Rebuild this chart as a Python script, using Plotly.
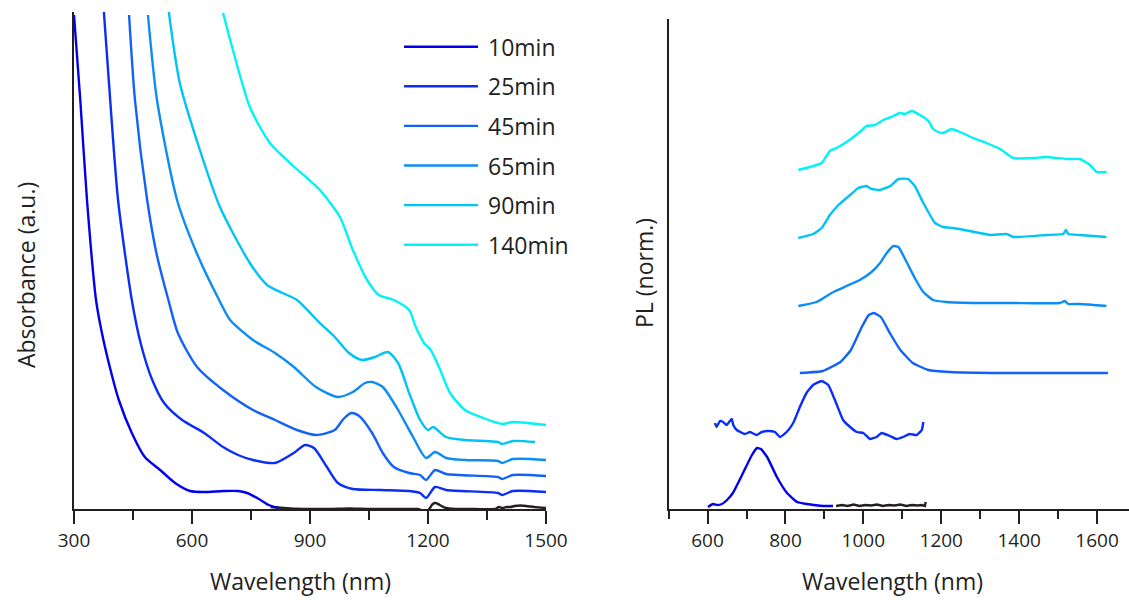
import plotly.graph_objects as go

W, H = 1129, 600

# ---- series ----
series = ["10min", "25min", "45min", "65min", "90min", "140min"]
colors = ["#0000ee", "#0a2ef5", "#1262f7", "#0b8df5", "#00c3f7", "#00f3f5"]

# ---- absorbance spectra (wavelength nm, absorbance a.u., offset) ----
abs_wl_10 = [300, 316, 333, 356, 371, 391, 414, 447, 480, 519, 557, 595, 630, 680, 717, 740, 770, 795, 820]
abs_10 = [4.94, 4.09, 3.09, 2.09, 1.76, 1.42, 1.09, 0.76, 0.52, 0.39, 0.26, 0.18, 0.17, 0.18, 0.18, 0.16, 0.10, 0.04, 0.01]

abs_wl_25 = [376, 392, 412, 447, 470, 498, 529, 575, 631, 679, 717, 755, 811, 859, 887, 910, 943, 971, 1009,
             1080, 1152, 1180, 1195, 1218, 1246, 1378, 1388, 1416, 1500]
abs_25 = [4.97, 4.09, 3.09, 2.09, 1.65, 1.30, 1.06, 0.89, 0.76, 0.62, 0.54, 0.49, 0.46, 0.56, 0.64, 0.61, 0.42, 0.26, 0.20,
          0.19, 0.18, 0.16, 0.11, 0.22, 0.19, 0.16, 0.14, 0.18, 0.17]

abs_wl_45 = [440, 455, 486, 510, 540, 564, 613, 679, 755, 811, 867, 915, 963, 985, 1005, 1025, 1058, 1085, 1113,
             1152, 1180, 1195, 1218, 1246, 1378, 1388, 1416, 1500]
abs_45 = [4.94, 4.09, 3.09, 2.55, 2.09, 1.76, 1.42, 1.19, 0.99, 0.89, 0.79, 0.74, 0.79, 0.90, 0.96, 0.93, 0.76, 0.56, 0.42,
          0.36, 0.34, 0.29, 0.39, 0.35, 0.32, 0.30, 0.34, 0.33]

abs_wl_65 = [488, 511, 562, 613, 669, 697, 755, 811, 859, 915, 971, 1009, 1040, 1058, 1085, 1124, 1162, 1195, 1218,
             1246, 1294, 1378, 1388, 1416, 1500]
abs_65 = [4.94, 4.09, 3.09, 2.55, 2.09, 1.89, 1.69, 1.56, 1.42, 1.22, 1.12, 1.17, 1.26, 1.27, 1.22, 0.99, 0.72, 0.51, 0.57,
          0.51, 0.49, 0.48, 0.46, 0.50, 0.49]

abs_wl_90 = [541, 569, 620, 671, 747, 791, 830, 867, 925, 963, 999, 1032, 1065, 1098, 1124, 1152, 1180, 1200, 1213,
             1246, 1294, 1378, 1388, 1416, 1472]
abs_90 = [4.97, 4.26, 3.59, 3.02, 2.46, 2.24, 2.16, 2.09, 1.86, 1.72, 1.56, 1.49, 1.52, 1.57, 1.46, 1.16, 0.89, 0.79, 0.82,
          0.72, 0.69, 0.67, 0.65, 0.68, 0.67]

abs_wl_140 = [679, 704, 747, 798, 849, 925, 976, 1009, 1045, 1075, 1113, 1152, 1169, 1190, 1207, 1228, 1256, 1294,
              1340, 1378, 1391, 1416, 1500]
abs_140 = [4.96, 4.59, 4.02, 3.66, 3.46, 3.19, 2.92, 2.59, 2.29, 2.14, 2.09, 1.99, 1.82, 1.66, 1.59, 1.42, 1.16, 0.99,
           0.91, 0.86, 0.85, 0.87, 0.84]

# solvent baseline
abs_wl_base = [800, 850, 900, 950, 1000, 1050, 1100, 1150, 1175, 1188, 1195, 1203, 1212, 1220, 1230, 1245, 1270,
               1320, 1370, 1380, 1390, 1400, 1410, 1420, 1435, 1450, 1470, 1500]
abs_base = [0.02, 0.005, 0.0, 0.0, 0.005, 0.0, 0.0, 0.0, 0.0, -0.02, -0.03, 0.0, 0.05, 0.06, 0.04, 0.01, 0.0,
            0.0, 0.0, 0.02, 0.01, 0.02, 0.02, 0.03, 0.035, 0.03, 0.02, 0.01]

# ---- photoluminescence spectra (wavelength nm, normalised PL, offset) ----
pl_wl_10 = [601, 614, 625, 637, 650, 665, 691, 714, 727, 737, 753, 778, 804, 830, 855, 896, 922]
pl_10 = [0.02, 0.05, 0.04, 0.05, 0.09, 0.16, 0.36, 0.54, 0.61, 0.60, 0.52, 0.32, 0.16, 0.07, 0.05, 0.03, 0.03]

pl_wl_25 = [619, 623, 632, 640, 649, 662, 666, 675, 696, 709, 726, 739, 756, 773, 786, 803, 820, 837, 854, 871,
            893, 910, 927, 948, 966, 983, 1000, 1017, 1034, 1047, 1068, 1085, 1102, 1119, 1137, 1150, 1154]
pl_25 = [0.86, 0.82, 0.88, 0.87, 0.84, 0.90, 0.84, 0.79, 0.75, 0.77, 0.74, 0.77, 0.78, 0.77, 0.72, 0.77, 0.86, 1.02,
         1.16, 1.24, 1.28, 1.24, 1.09, 0.89, 0.82, 0.77, 0.76, 0.70, 0.72, 0.76, 0.73, 0.70, 0.72, 0.75, 0.74, 0.79, 0.87]

pl_wl_45 = [837, 896, 941, 968, 996, 1014, 1027, 1045, 1068, 1095, 1127, 1167, 1222, 1357, 1538, 1628]
pl_45 = [1.36, 1.38, 1.47, 1.59, 1.82, 1.94, 1.96, 1.92, 1.76, 1.59, 1.46, 1.39, 1.37, 1.36, 1.36, 1.36]

pl_wl_65 = [833, 880, 923, 957, 991, 1021, 1043, 1060, 1077, 1090, 1111, 1132, 1154, 1179, 1214, 1299, 1384,
            1505, 1517, 1526, 1556, 1624]
pl_65 = [2.03, 2.07, 2.17, 2.23, 2.29, 2.37, 2.46, 2.56, 2.63, 2.62, 2.47, 2.31, 2.17, 2.09, 2.07, 2.06, 2.06,
         2.06, 2.08, 2.05, 2.05, 2.03]

pl_wl_90 = [833, 871, 893, 914, 936, 966, 987, 1008, 1021, 1043, 1069, 1090, 1115, 1132, 1154, 1184, 1205, 1231,
            1299, 1325, 1368, 1385, 1470, 1513, 1520, 1526, 1556, 1624]
pl_90 = [2.71, 2.75, 2.81, 2.94, 3.04, 3.14, 3.21, 3.23, 3.20, 3.19, 3.23, 3.30, 3.30, 3.23, 3.06, 2.86, 2.82, 2.81,
         2.76, 2.74, 2.75, 2.72, 2.74, 2.75, 2.79, 2.75, 2.74, 2.72]

pl_wl_140 = [833, 863, 893, 914, 931, 957, 991, 1008, 1030, 1051, 1077, 1094, 1107, 1124, 1145, 1167, 1179, 1192,
             1205, 1227, 1248, 1282, 1316, 1351, 1385, 1436, 1470, 1522, 1556, 1582, 1599, 1624]
pl_140 = [3.39, 3.42, 3.46, 3.58, 3.61, 3.67, 3.77, 3.83, 3.84, 3.89, 3.93, 3.96, 3.95, 3.98, 3.94, 3.88, 3.80, 3.77,
          3.76, 3.80, 3.77, 3.71, 3.66, 3.60, 3.51, 3.51, 3.52, 3.50, 3.50, 3.44, 3.37, 3.37]

# detector background
pl_wl_base = [930, 945, 960, 975, 990, 1005, 1020, 1035, 1050, 1065, 1080, 1095, 1110, 1125, 1140, 1150, 1158, 1160]
pl_base = [0.03, 0.04, 0.03, 0.045, 0.03, 0.04, 0.035, 0.045, 0.03, 0.04, 0.035, 0.045, 0.03, 0.04, 0.035, 0.04, 0.03, 0.07]

abs_x = [abs_wl_10, abs_wl_25, abs_wl_45, abs_wl_65, abs_wl_90, abs_wl_140]
abs_y = [abs_10, abs_25, abs_45, abs_65, abs_90, abs_140]
pl_x = [pl_wl_10, pl_wl_25, pl_wl_45, pl_wl_65, pl_wl_90, pl_wl_140]
pl_y = [pl_10, pl_25, pl_45, pl_65, pl_90, pl_140]

FONT = "Open Sans"
INK = "#231f20"
LW = 2.4

fig = go.Figure()

fig.add_trace(go.Scatter(x=abs_wl_base, y=abs_base, mode="lines", line=dict(color=INK, width=LW, shape="spline", smoothing=0.6),
                         showlegend=False, xaxis="x", yaxis="y"))
for name, c, xs, ys in zip(series, colors, abs_x, abs_y):
    fig.add_trace(go.Scatter(x=xs, y=ys, mode="lines", name=name,
                             line=dict(color=c, width=LW, shape="spline", smoothing=0.7),
                             showlegend=False, xaxis="x", yaxis="y"))

fig.add_trace(go.Scatter(x=pl_wl_base, y=pl_base, mode="lines", line=dict(color=INK, width=LW),
                         showlegend=False, xaxis="x2", yaxis="y2"))
for name, c, xs, ys in zip(series, colors, pl_x, pl_y):
    fig.add_trace(go.Scatter(x=xs, y=ys, mode="lines", name=name,
                             line=dict(color=c, width=LW, shape="spline", smoothing=0.4),
                             showlegend=False, xaxis="x2", yaxis="y2"))

y_bot = (H - 509) / H
axis_common = dict(showline=True, linecolor=INK, linewidth=2, showgrid=False, zeroline=False,
                   ticks="outside", ticklen=13, tickwidth=2, tickcolor=INK, automargin=False,
                   tickfont=dict(family=FONT, size=19, color=INK))
yaxis_common = dict(showline=True, linecolor=INK, linewidth=2, showgrid=False, zeroline=False,
                    showticklabels=False, ticks="", automargin=False)

fig.update_layout(
    width=W, height=H,
    margin=dict(l=0, r=0, t=0, b=0, pad=0, autoexpand=False),
    paper_bgcolor="white", plot_bgcolor="white",
    showlegend=False,
    xaxis=dict(domain=[74 / W, 546 / W], range=[300, 1500], tick0=300, dtick=300,
               minor=dict(ticks="outside", ticklen=9, tickwidth=2, tickcolor=INK, dtick=150, tick0=300),
               anchor="y", **axis_common),
    yaxis=dict(domain=[y_bot, (H - 12) / H], range=[0, 4.97], anchor="x", **yaxis_common),
    xaxis2=dict(domain=[668.6 / W, 1], range=[500, 1682], tick0=600, dtick=200,
                minor=dict(ticks="outside", ticklen=8, tickwidth=2, tickcolor=INK, dtick=100, tick0=500),
                anchor="y2", **axis_common),
    yaxis2=dict(domain=[y_bot, (H - 19) / H], range=[0, 4.90], anchor="x2", **yaxis_common),
)

title_font = dict(family=FONT, size=23, color=INK)
annotations = [
    dict(text="Wavelength (nm)", x=300 / W, y=(H - 581) / H, xref="paper", yref="paper",
         xanchor="center", yanchor="middle", showarrow=False, font=title_font),
    dict(text="Wavelength (nm)", x=892 / W, y=(H - 581) / H, xref="paper", yref="paper",
         xanchor="center", yanchor="middle", showarrow=False, font=title_font),
    dict(text="Absorbance (a.u.)", x=26 / W, y=(H - 275) / H, xref="paper", yref="paper", textangle=-90,
         xanchor="center", yanchor="middle", showarrow=False, font=title_font),
    dict(text="PL (norm.)", x=644 / W, y=(H - 273) / H, xref="paper", yref="paper", textangle=-90,
         xanchor="center", yanchor="middle", showarrow=False, font=title_font),
]

# legend rows drawn as line samples with labels
shapes = []
for i, (name, c) in enumerate(zip(series, colors)):
    yy = (H - (46.7 + 39.6 * i)) / H
    shapes.append(dict(type="line", xref="paper", yref="paper", x0=404 / W, x1=478 / W, y0=yy, y1=yy,
                       line=dict(color=c, width=LW)))
    annotations.append(dict(text=name, x=486 / W, y=yy, xref="paper", yref="paper", xanchor="left",
                            yanchor="middle", showarrow=False, font=dict(family=FONT, size=23, color=INK)))

fig.update_layout(annotations=annotations, shapes=shapes)

fig.write_html("out.html")
